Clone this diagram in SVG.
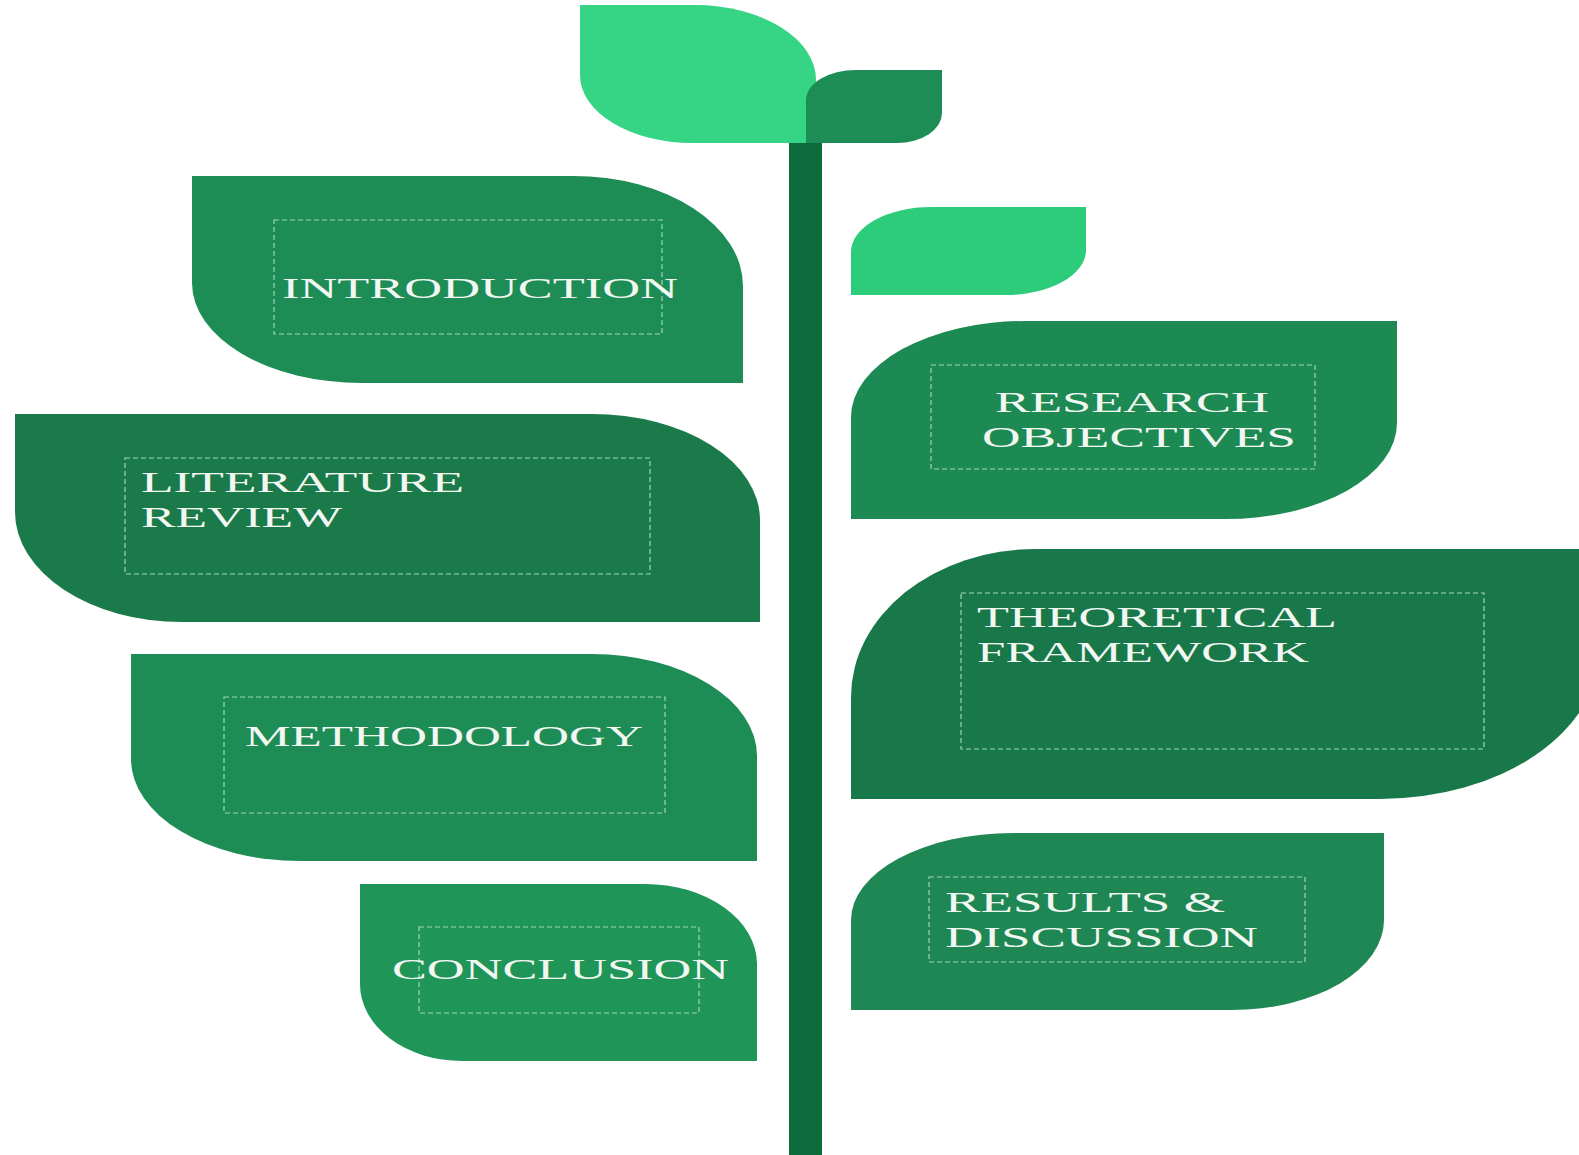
<svg xmlns="http://www.w3.org/2000/svg" width="1579" height="1155" viewBox="0 0 1579 1155">
<style>
.lbl{font-family:"Liberation Serif","DejaVu Serif",serif;font-size:30px;fill:#f2f7f2;}
.box{fill:none;stroke:#9fd4b6;stroke-width:1.2;stroke-dasharray:5 3;}
</style>
<rect width="1579" height="1155" fill="#ffffff"/>
<g id="stem"><rect x="789" y="140" width="33" height="1015" fill="#0b6b3a"/></g>
<g id="sprout-big"><path d="M580,5 H695 A121,75 0 0 1 816,80 V143 H692 A112,68 0 0 1 580,75 Z" fill="#35d585"/></g>
<g id="sprout-small"><path d="M806,100 A50,30 0 0 1 856,70 H942 V113 A45,30 0 0 1 897,143 H806 Z" fill="#1e8c55"/></g>
<g id="leaf-small-right"><path d="M851,252 A80,45 0 0 1 931,207 H1086 V250 A80,45 0 0 1 1006,295 H851 Z" fill="#2ccc7a"/></g>
<g id="introduction">
<path d="M192,176 H573 A170,110 0 0 1 743,286 V383 H362 A170,100 0 0 1 192,283 Z" fill="#1e8c55"/>
<rect class="box" x="274" y="220" width="388" height="114"/>
<text class="lbl" x="282" y="298" textLength="396" lengthAdjust="spacingAndGlyphs">INTRODUCTION</text>
</g>
<g id="literature-review">
<path d="M15,414 H592 A168,106 0 0 1 760,520 V622 H182 A167,110 0 0 1 15,512 Z" fill="#1a7a4a"/>
<rect class="box" x="125" y="458" width="525" height="116"/>
<text class="lbl" x="141" y="492" textLength="323" lengthAdjust="spacingAndGlyphs">LITERATURE</text>
<text class="lbl" x="141" y="527" textLength="201" lengthAdjust="spacingAndGlyphs">REVIEW</text>
</g>
<g id="methodology">
<path d="M131,654 H592 A165,102 0 0 1 757,756 V861 H300 A169,102 0 0 1 131,759 Z" fill="#1e8c55"/>
<rect class="box" x="224" y="697" width="441" height="116"/>
<text class="lbl" x="245" y="746" textLength="398" lengthAdjust="spacingAndGlyphs">METHODOLOGY</text>
</g>
<g id="conclusion">
<path d="M360,884 H645 A112,80 0 0 1 757,964 V1061 H462 A102,77 0 0 1 360,984 Z" fill="#1f9558"/>
<rect class="box" x="419" y="927" width="280" height="86"/>
<text class="lbl" x="392" y="979" textLength="337" lengthAdjust="spacingAndGlyphs">CONCLUSION</text>
</g>
<g id="research-objectives">
<path d="M851,417 A175,96 0 0 1 1026,321 H1397 V423 A172,96 0 0 1 1225,519 H851 Z" fill="#1e8a53"/>
<rect class="box" x="931" y="365" width="384" height="104"/>
<text class="lbl" x="995" y="412" textLength="274" lengthAdjust="spacingAndGlyphs">RESEARCH</text>
<text class="lbl" x="982" y="447" textLength="314" lengthAdjust="spacingAndGlyphs">OBJECTIVES</text>
</g>
<g id="theoretical-framework">
<path d="M851,697 A185,148 0 0 1 1036,549 H1600 V649 A220,150 0 0 1 1380,799 H851 Z" fill="#19784a"/>
<rect class="box" x="961" y="593" width="523" height="156"/>
<text class="lbl" x="977" y="627" textLength="360" lengthAdjust="spacingAndGlyphs">THEORETICAL</text>
<text class="lbl" x="977" y="662" textLength="332" lengthAdjust="spacingAndGlyphs">FRAMEWORK</text>
</g>
<g id="results-discussion">
<path d="M851,920 A162,87 0 0 1 1013,833 H1384 V920 A152,90 0 0 1 1232,1010 H851 Z" fill="#1e8754"/>
<rect class="box" x="929" y="877" width="376" height="85"/>
<text class="lbl" x="945" y="912" textLength="280" lengthAdjust="spacingAndGlyphs">RESULTS &amp;</text>
<text class="lbl" x="945" y="947" textLength="313" lengthAdjust="spacingAndGlyphs">DISCUSSION</text>
</g>
<g id="connectors"></g>
</svg>
